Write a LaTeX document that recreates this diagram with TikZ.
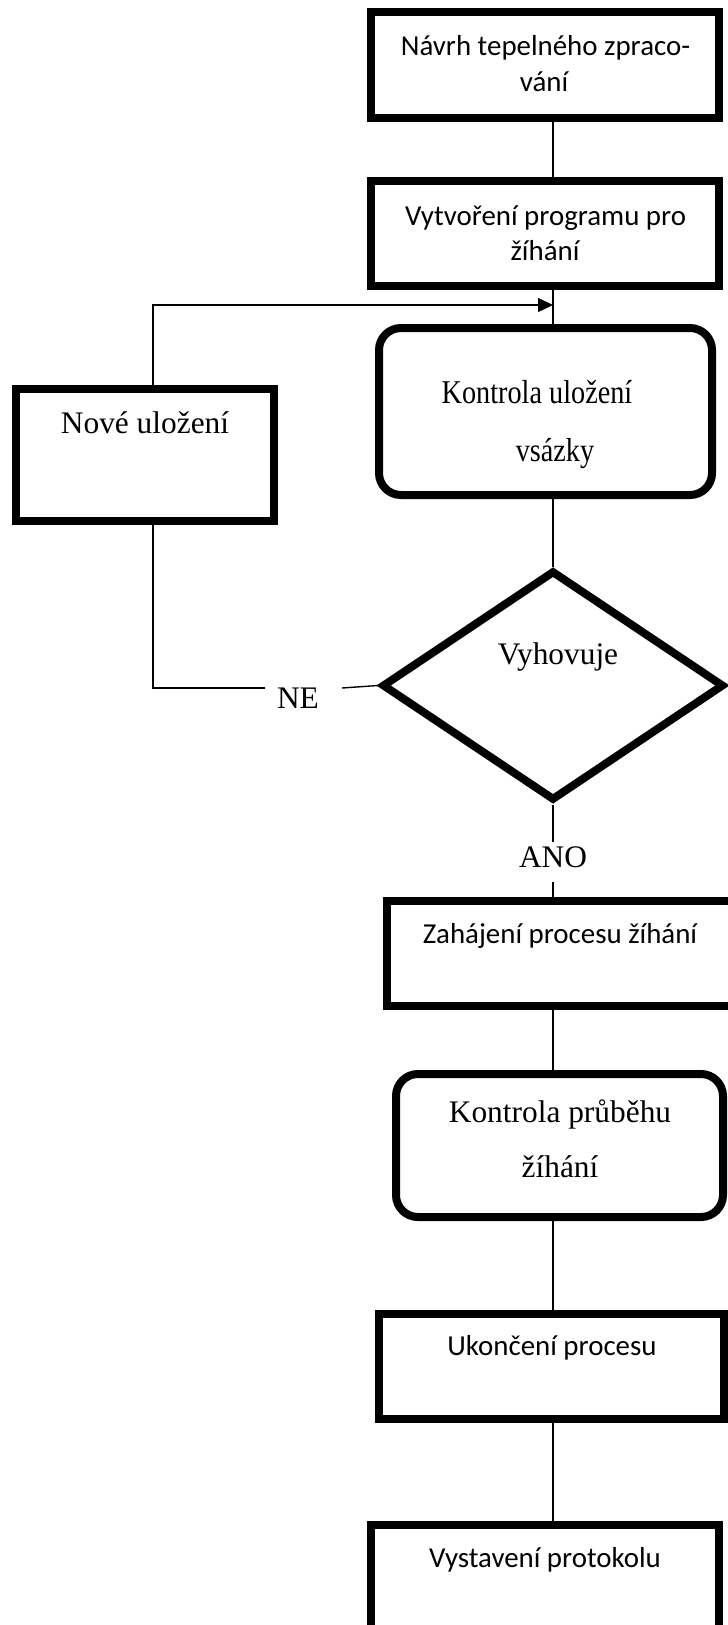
\documentclass[tikz,border=0pt]{standalone}
\usepackage{graphicx}
\usepackage{fontspec}
\setmainfont{Liberation Serif}
\newfontfamily\boxsans{Carlito}
\usetikzlibrary{arrows.meta,shapes.geometric}

% slightly condensed serif lettering used in the first check box
\newcommand{\narrowtext}[1]{\scalebox{0.9}[1.06]{#1}}

\begin{document}
\begin{tikzpicture}[x=1bp,y=-1bp,
  framebox/.style={draw, line width=8bp, rectangle, inner sep=0pt},
  roundbox/.style={framebox, rounded corners=22bp},
  decision/.style={draw, line width=8bp, diamond, inner sep=0pt},
  conn/.style={line width=1.4bp},
  sanslbl/.style={anchor=base, inner sep=0pt, font=\boxsans\fontsize{29}{35}\selectfont},
  seriflbl/.style={anchor=base, inner sep=0pt, font=\fontsize{31.5}{38}\selectfont}]

% page area
\useasboundingbox (0,0) rectangle (728,1625);
\fill[white] (0,0) rectangle (728,1625);
\clip (0,0) rectangle (728,1625);

% vertical axis of the main flow
\coordinate (spine) at (553,0);

% process boxes
\node[framebox, minimum width=348bp, minimum height=106bp] (b1) at (545,65) {};
\node[framebox, minimum width=348bp, minimum height=105bp] (b2) at (545,233.5) {};
\node[roundbox, minimum width=333bp, minimum height=167bp] (k1) at (545.5,411.5) {};
\node[framebox, minimum width=258bp, minimum height=132bp] (nu) at (145,455) {};
\node[decision, minimum width=342bp, minimum height=230bp] (d) at (553,685.5) {};
\node[framebox, minimum width=346bp, minimum height=105bp] (z) at (560,953.5) {};
\node[roundbox, minimum width=327bp, minimum height=143bp] (k2) at (559.5,1145.5) {};
\node[framebox, minimum width=345bp, minimum height=105bp] (u) at (551.5,1366.5) {};
\node[framebox, minimum width=348bp, minimum height=105bp] (v) at (545,1577.5) {};

% box texts
\node[sanslbl] (t1a) at (545.5,56) {Návrh tepelného zpraco-};
\node[sanslbl] (t1b) at (544,91) {vání};
\node[sanslbl] (t2a) at (545.5,225) {Vytvoření programu pro};
\node[sanslbl] (t2b) at (545,260) {žíhání};
\node[seriflbl] (t3a) at (537,403) {\narrowtext{Kontrola uložení}};
\node[seriflbl] (t3b) at (555,461) {\narrowtext{vsázky}};
\node[seriflbl] (t4) at (145,433) {Nové uložení};
\node[seriflbl] (t5) at (558,664) {Vyhovuje};
\node[sanslbl] (t6) at (560,943) {Zahájení procesu žíhání};
\node[seriflbl] (t7a) at (560,1122) {Kontrola průběhu};
\node[seriflbl] (t7b) at (560,1177) {žíhání};
\node[sanslbl] (t8) at (552,1355) {Ukončení procesu};
\node[sanslbl] (t9) at (545,1567) {Vystavení protokolu};

% branch labels
\node[seriflbl] (ne) at (298,708) {NE};
\node[seriflbl] (ano) at (553,867) {ANO};

% free ends of the broken connectors
\coordinate (neR) at (342,688);
\coordinate (neL) at (265,688);
\coordinate (corner) at (153,688);
\coordinate (fb) at (153,305);
\coordinate (anoT) at (553,842);
\coordinate (anoB) at (553,882);

% main flow
\draw[conn] (b1.south -| spine) -- (b2.north -| spine);
\draw[conn] (b2.south -| spine) -- (k1.north -| spine);
\draw[conn] (k1.south -| spine) -- (d.north);
\draw[conn] (d.south) -- (anoT);
\draw[conn] (anoB) -- (z.north -| spine);
\draw[conn] (z.south -| spine) -- (k2.north -| spine);
\draw[conn] (k2.south -| spine) -- (u.north -| spine);
\draw[conn] (u.south -| spine) -- (v.north -| spine);

% rejection loop
\draw[conn] (d.west) -- (neR);
\draw[conn] (neL) -- (corner) -- (corner |- nu.south);
\draw[conn, -{Triangle[length=15bp, width=14bp]}] (fb |- nu.north) -- (fb) -- (fb -| spine);

\end{tikzpicture}
\end{document}
